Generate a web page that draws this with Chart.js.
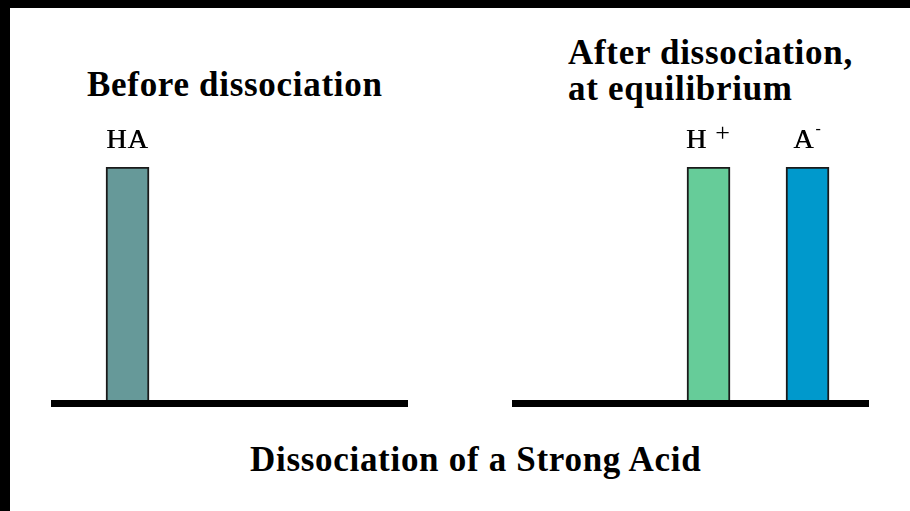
<!DOCTYPE html>
<html>
<head>
<meta charset="utf-8">
<title>Dissociation of a Strong Acid</title>
<script src="https://cdn.jsdelivr.net/npm/chart.js@4.4.1/dist/chart.umd.min.js"></script>
<style>
    html, body {
        margin: 0;
        padding: 0;
        background: #ffffff;
    }

    #page {
        position: relative;
        width: 910px;
        height: 511px;
        background: #ffffff;
        overflow: hidden;
        font-family: 'Liberation Serif', 'Times New Roman', serif;
        color: #000000;
    }

    .frame-top {
        position: absolute;
        left: 0;
        top: 0;
        width: 910px;
        height: 8px;
        background: #000000;
    }

    .frame-left {
        position: absolute;
        left: 0;
        top: 0;
        width: 10px;
        height: 511px;
        background: #000000;
    }

    .heading {
        position: absolute;
        font-weight: bold;
        font-size: 35px;
        line-height: 36px;
        letter-spacing: 0.7px;
        white-space: nowrap;
    }

    #title-before { left: 87px; top: 67px; }
    #title-after { left: 568px; top: 35px; }
    #caption { left: 250px; top: 442px; }

    .panel {
        position: absolute;
        top: 120px;
    }

    #panel-before { left: 51px; }
    #panel-after { left: 512px; }
</style>
</head>
<body>
<div id="page">
    <div class="frame-top"></div>
    <div class="frame-left"></div>

    <div class="heading" id="title-before">Before dissociation</div>
    <div class="heading" id="title-after">After dissociation,<br>at equilibrium</div>

    <canvas class="panel" id="panel-before" width="357" height="287"></canvas>
    <canvas class="panel" id="panel-after" width="357" height="287"></canvas>

    <div class="heading" id="caption">Dissociation of a Strong Acid</div>
</div>

<script>
/* ===================================
   STRONG ACID DISSOCIATION - BARS
   =================================== */

// before dissociation: only the undissociated acid
const BEFORE_SYMBOLS = ['HA'];
const BEFORE_CHARGES = [''];
const BEFORE_VALUES = [1];

// after dissociation: all of it has split into ions
const AFTER_SYMBOLS = ['H', 'A'];
const AFTER_CHARGES = ['+', '-'];
const AFTER_VALUES = [1, 1];

const BEFORE_COLORS = ['#669999'];
const AFTER_COLORS = ['#66CC99', '#0099CC'];

// x range of each floor, in bar slots (one slot between H+ and A-)
const BEFORE_RANGE = { min: -0.773, max: 2.833 };
const AFTER_RANGE = { min: -1.985, max: 1.621 };

const LABEL_FONT = '"Liberation Serif", "Times New Roman", serif';

// draws the species name above each bar, with its charge raised
const speciesLabelPlugin = {
    id: 'speciesLabels',
    afterDatasetsDraw(chart, args, opts) {
        const ctx = chart.ctx;
        const meta = chart.getDatasetMeta(0);
        ctx.save();
        ctx.fillStyle = '#000000';
        ctx.textBaseline = 'alphabetic';
        ctx.textAlign = 'left';

        meta.data.forEach((bar, i) => {
            const symbol = opts.symbols[i] || '';
            const charge = opts.charges[i] || '';
            const baseline = bar.y - 19;

            ctx.font = '28px ' + LABEL_FONT;
            ctx.letterSpacing = '1px';
            const symbolWidth = ctx.measureText(symbol).width;

            let chargeFont = '';
            let gap = 0;
            let rise = 0;
            let chargeWidth = 0;
            if (charge === '+') {
                chargeFont = '26px ' + LABEL_FONT;
                gap = 8;
                rise = 7;
            } else if (charge) {
                chargeFont = '16px ' + LABEL_FONT;
                gap = 1;
                rise = 14;
            }
            if (charge) {
                ctx.font = chargeFont;
                chargeWidth = ctx.measureText(charge).width;
            }

            const total = symbolWidth + gap + chargeWidth;
            const startX = bar.x - total / 2;

            ctx.font = '28px ' + LABEL_FONT;
            ctx.fillText(symbol, startX, baseline);
            ctx.fillText(symbol, startX + 0.4, baseline);

            if (charge) {
                ctx.font = chargeFont;
                ctx.fillText(charge, startX + symbolWidth + gap, baseline - rise);
            }
        });
        ctx.restore();
    }
};

function buildPanel(canvasId, symbols, charges, values, colors, range) {
    const canvas = document.getElementById(canvasId);
    if (!canvas) return;

    const points = values.map((value, i) => ({ x: i, y: value }));

    new Chart(canvas.getContext('2d'), {
        type: 'bar',
        data: {
            datasets: [{
                data: points,
                backgroundColor: colors,
                borderColor: '#1a1a1a',
                borderWidth: 2,
                borderSkipped: 'bottom',
                barThickness: 43
            }]
        },
        options: {
            responsive: false,
            maintainAspectRatio: false,
            animation: false,
            events: [],
            layout: {
                padding: {
                    top: 47,
                    bottom: 4,
                    left: 0,
                    right: 0
                }
            },
            plugins: {
                legend: { display: false },
                tooltip: { enabled: false },
                title: { display: false },
                speciesLabels: { symbols, charges }
            },
            scales: {
                x: {
                    type: 'linear',
                    min: range.min,
                    max: range.max,
                    offset: false,
                    grid: {
                        display: false,
                        drawTicks: false
                    },
                    ticks: { display: false },
                    border: {
                        display: true,
                        color: '#000000',
                        width: 7,
                        z: 1
                    }
                },
                y: {
                    display: false,
                    min: 0,
                    max: 1
                }
            }
        },
        plugins: [speciesLabelPlugin]
    });
}

buildPanel('panel-before', BEFORE_SYMBOLS, BEFORE_CHARGES, BEFORE_VALUES, BEFORE_COLORS, BEFORE_RANGE);
buildPanel('panel-after', AFTER_SYMBOLS, AFTER_CHARGES, AFTER_VALUES, AFTER_COLORS, AFTER_RANGE);
</script>
</body>
</html>
